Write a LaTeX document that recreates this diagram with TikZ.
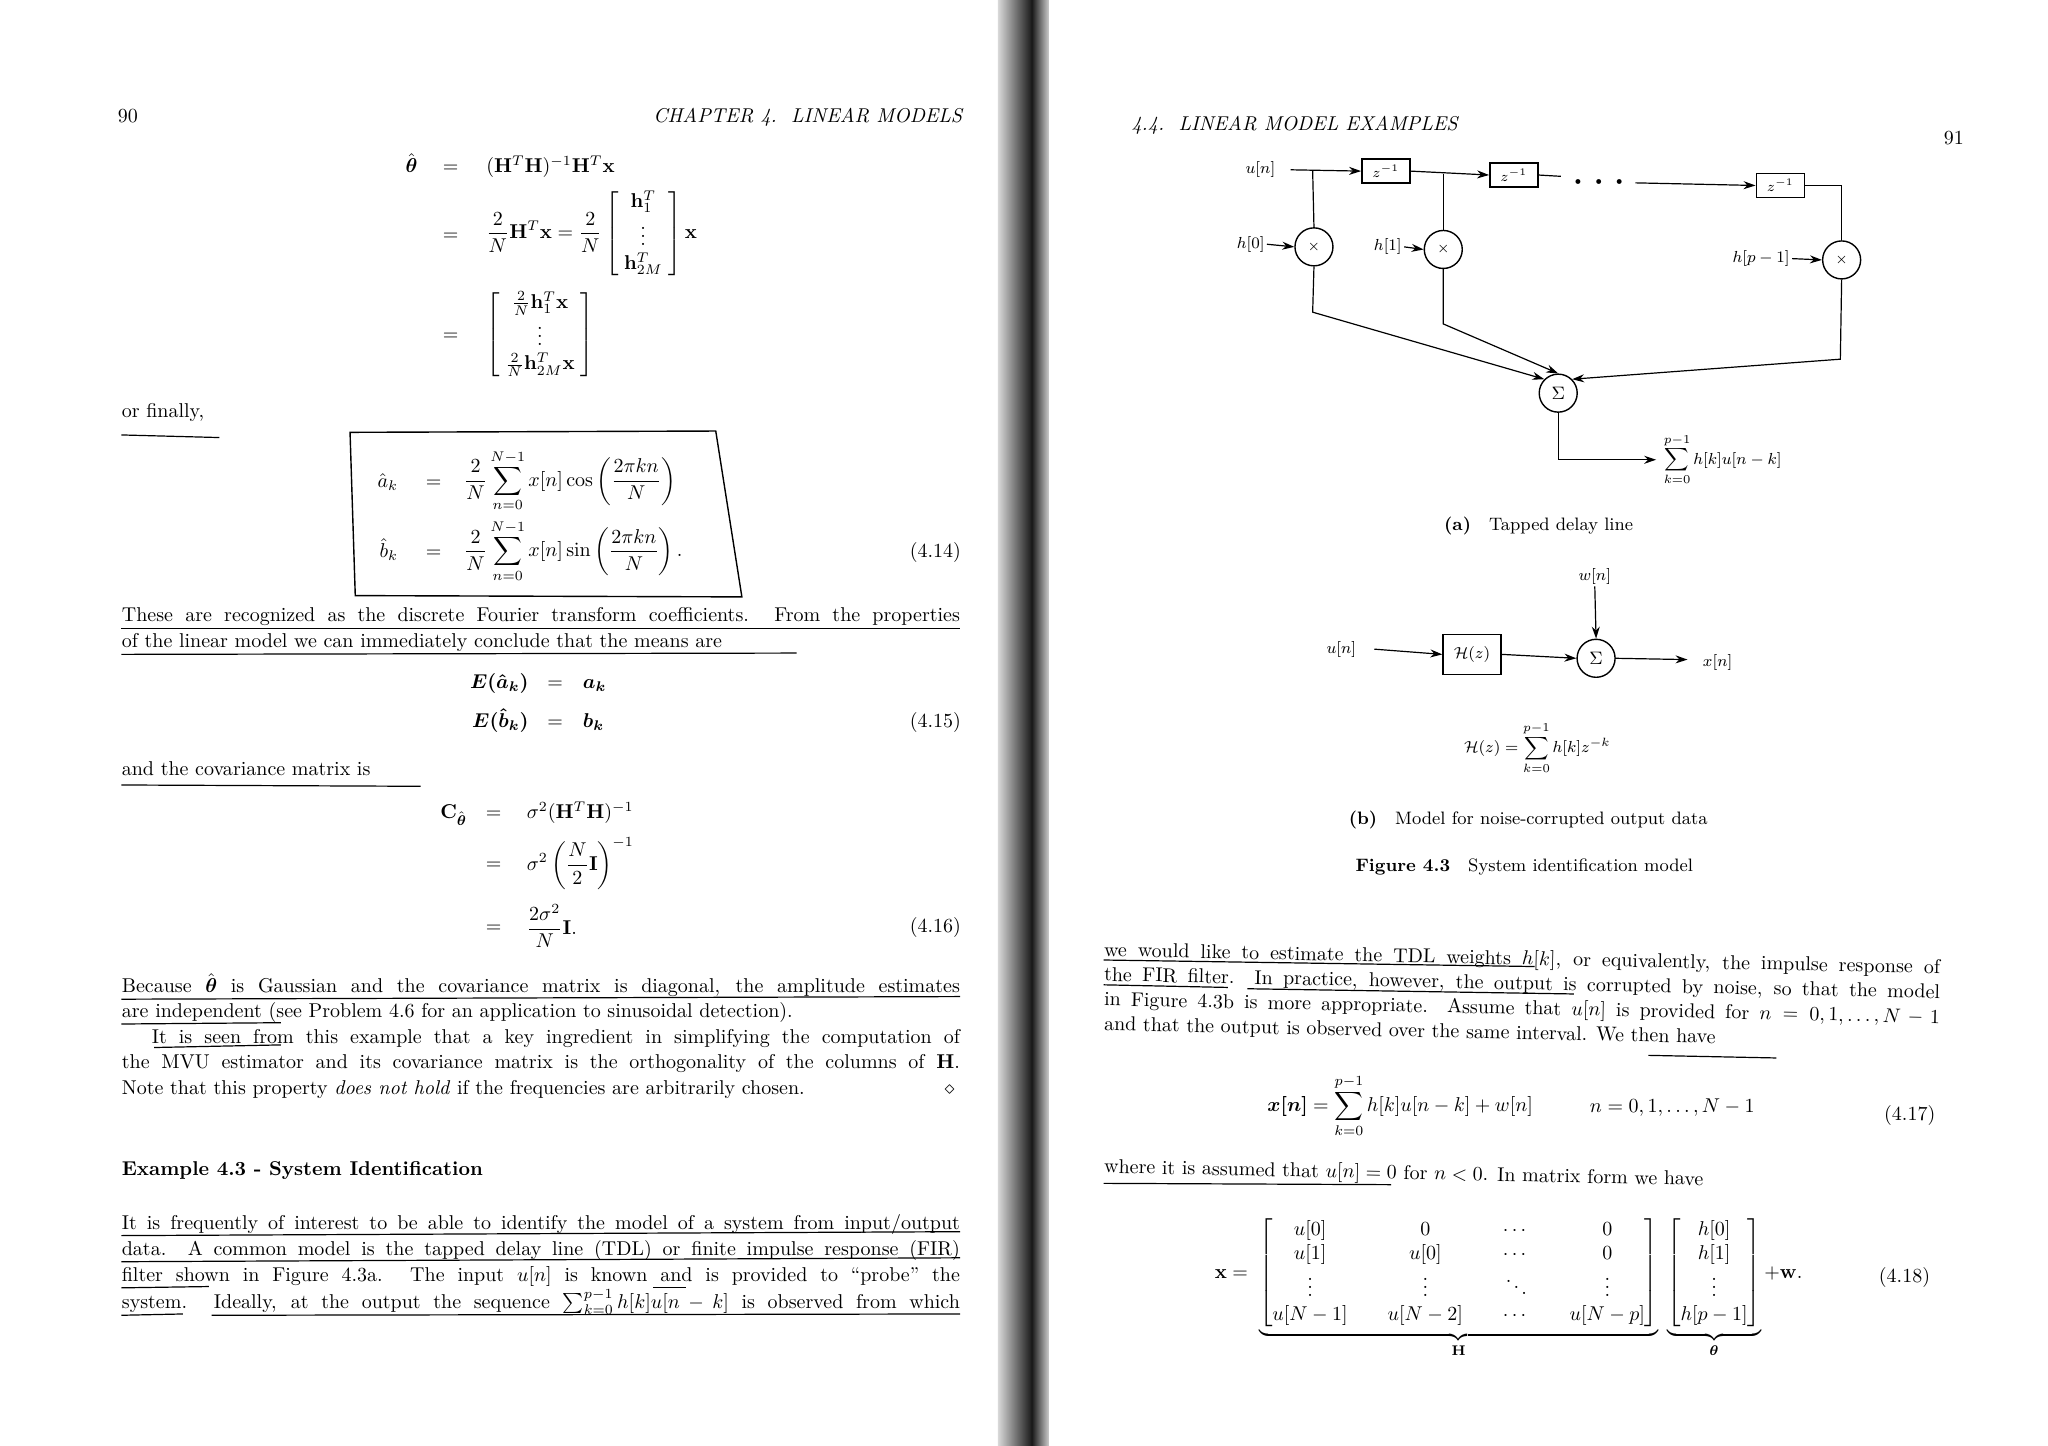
\documentclass[tikz,border=0pt]{standalone}
\usepackage{amsmath,amssymb}
\usetikzlibrary{arrows.meta,shapes.geometric}
\newcommand{\jl}[1]{\makebox[419pt][s]{#1}}
\tikzset{
  txt/.style={anchor=base west,inner sep=0pt,font=\normalsize},
  rtxt/.style={txt,rotate=-1.2},
  ul/.style={line width=0.6pt},
  blk/.style={draw,line width=0.7pt,minimum width=24pt,minimum height=12pt,inner sep=1pt,font=\scriptsize},
  crc/.style={draw,circle,line width=0.7pt,minimum size=19pt,inner sep=0pt,font=\scriptsize},
  ln/.style={line width=0.6pt},
  ar/.style={line width=0.6pt,-{Stealth[length=6pt,width=4pt]}},
  lab/.style={inner sep=1pt,font=\footnotesize}
}
\begin{document}
\begin{tikzpicture}[x=0.653pt,y=-0.653pt]
\useasboundingbox (0,0) rectangle (1568,1107);
\fill[white] (0,0) rectangle (1568,1107);
% spine
\shade[left color=gray!30,right color=black!90] (764,0) rectangle (790,1107);
\shade[left color=black!90,right color=gray!40] (790,0) rectangle (803,1107);
% ===== left page =====
\node[txt] (pg90) at (90,94) {90};
\node[anchor=base east,inner sep=0pt] (chap) at (737,94) {\itshape CHAPTER 4.\ \ LINEAR MODELS};
\node[anchor=base east,inner sep=0pt] (e1l) at (320,132) {$\hat{\boldsymbol\theta}$};
\node[anchor=base,inner sep=0pt] (e1m) at (345,132) {$=$};
\node[anchor=base west,inner sep=0pt] (e1r) at (372,132) {$(\mathbf{H}^T\mathbf{H})^{-1}\mathbf{H}^T\mathbf{x}$};
\node[anchor=base,inner sep=0pt] (e2m) at (345,184) {$=$};
\node[anchor=west,inner sep=0pt] (e2r) at (372,179) {$\displaystyle \frac{2}{N}\mathbf{H}^T\mathbf{x}=\frac{2}{N}\begin{bmatrix}\;\mathbf{h}_1^T\;\\ \vdots\\ \;\mathbf{h}_{2M}^T\;\end{bmatrix}\mathbf{x}$};
\node[anchor=base,inner sep=0pt] (e3m) at (345,261) {$=$};
\node[anchor=west,inner sep=0pt] (e3r) at (372,256) {$\begin{bmatrix}\;\frac{2}{N}\mathbf{h}_1^T\mathbf{x}\;\\ \vdots\\ \;\frac{2}{N}\mathbf{h}_{2M}^T\mathbf{x}\;\end{bmatrix}$};
\node[txt] (fin) at (93,320) {or finally,};
\draw[ul] (93,333) -- (168,335);
\draw[line width=0.7pt] (268,331) -- (548,330) -- (568,457) -- (272,456) -- cycle;
\node[anchor=base east,inner sep=0pt] (ak) at (305,373) {$\hat a_k$};
\node[anchor=base,inner sep=0pt] (akm) at (332,373) {$=$};
\node[anchor=west,inner sep=0pt] (akr) at (355,368) {$\displaystyle \frac{2}{N}\sum_{n=0}^{N-1}x[n]\cos\left(\frac{2\pi kn}{N}\right)$};
\node[anchor=base east,inner sep=0pt] (bk) at (305,427) {$\hat b_k$};
\node[anchor=base,inner sep=0pt] (bkm) at (332,427) {$=$};
\node[anchor=west,inner sep=0pt] (bkr) at (355,422) {$\displaystyle \frac{2}{N}\sum_{n=0}^{N-1}x[n]\sin\left(\frac{2\pi kn}{N}\right).$};
\node[anchor=base east,inner sep=0pt] (n414) at (736,427) {(4.14)};
\node[txt] (p1) at (93,476) {\jl{These are recognized as the discrete Fourier transform coefficients. From the properties}};
\node[txt] (p2) at (93,496) {of the linear model we can immediately conclude that the means are};
\draw[ul] (93,481) -- (735,481); \draw[ul] (93,501) -- (610,500);
\node[anchor=base east,inner sep=0pt] (ea) at (405,527) {$\boldsymbol{E(\hat{a}_k)}$};
\node[anchor=base,inner sep=0pt] (eam) at (425,527) {$=$};
\node[anchor=base west,inner sep=0pt] (ear) at (446,527) {$\boldsymbol{a_k}$};
\node[anchor=base east,inner sep=0pt] (eb) at (405,557) {$\boldsymbol{E(\hat{b}_k)}$};
\node[anchor=base,inner sep=0pt] (ebm) at (425,557) {$=$};
\node[anchor=base west,inner sep=0pt] (ebr) at (446,557) {$\boldsymbol{b_k}$};
\node[anchor=base east,inner sep=0pt] (n415) at (736,557) {(4.15)};
\node[txt] (p3) at (93,594) {and the covariance matrix is};
\draw[ul] (93,601) -- (322,602);
\node[anchor=base east,inner sep=0pt] (cl) at (358,627) {$\mathbf{C}_{\hat{\boldsymbol\theta}}$};
\node[anchor=base,inner sep=0pt] (c1m) at (378,627) {$=$};
\node[anchor=base west,inner sep=0pt] (c1r) at (403,627) {$\sigma^2(\mathbf{H}^T\mathbf{H})^{-1}$};
\node[anchor=base,inner sep=0pt] (c2m) at (378,666) {$=$};
\node[anchor=west,inner sep=0pt] (c2r) at (403,661) {$\displaystyle\sigma^2\left(\frac{N}{2}\mathbf{I}\right)^{-1}$};
\node[anchor=base,inner sep=0pt] (c3m) at (378,714) {$=$};
\node[anchor=west,inner sep=0pt] (c3r) at (403,709) {$\displaystyle\frac{2\sigma^2}{N}\mathbf{I}.$};
\node[anchor=base east,inner sep=0pt] (n416) at (736,714) {(4.16)};
\node[txt] (p4) at (93,760) {\jl{Because $\hat{\boldsymbol\theta}$ is Gaussian and the covariance matrix is diagonal, the amplitude estimates}};
\node[txt] (p5) at (93,779) {are independent (see Problem 4.6 for an application to sinusoidal detection).};
\node[txt] (p6) at (93,799) {\jl{\hspace{1.5em}It is seen from this example that a key ingredient in simplifying the computation of}};
\node[txt] (p7) at (93,818) {\jl{the MVU estimator and its covariance matrix is the orthogonality of the columns of $\mathbf{H}$.}};
\node[txt] (p8) at (93,838) {Note that this property \emph{does not hold} if the frequencies are arbitrarily chosen.};
\node[anchor=base,inner sep=0pt] (dia) at (727,838) {$\diamond$};
\draw[ul] (93,765) -- (735,763); \draw[ul] (93,784) -- (215,783); \draw[ul] (118,802) -- (215,800);
\node[txt] (ex) at (93,900) {\bfseries Example 4.3 - System Identification};
\node[txt] (p9) at (93,941) {\jl{It is frequently of interest to be able to identify the model of a system from input/output}};
\node[txt] (p10) at (93,961) {\jl{data. A common model is the tapped delay line (TDL) or finite impulse response (FIR)}};
\node[txt] (p11) at (93,981) {\jl{filter shown in Figure 4.3a. The input $u[n]$ is known and is provided to ``probe'' the}};
\node[txt] (p12) at (93,1002) {\jl{system. Ideally, at the output the sequence $\sum_{k=0}^{p-1}h[k]u[n-k]$ is observed from which}};
\draw[ul] (93,946) -- (735,943); \draw[ul] (93,966) -- (735,963); \draw[ul] (93,986) -- (160,985);
\draw[ul] (500,986) -- (525,986); \draw[ul] (93,1007) -- (140,1006); \draw[ul] (162,1007) -- (735,1006);
% ===== right page =====
\node[txt] (hd) at (866,100) {\itshape 4.4.\ \ LINEAR MODEL EXAMPLES};
\node[txt] (pg91) at (1488,111) {91};
% diagram (a)
\node[lab] (un) at (965,130) {$u[n]$};
\node[blk] (z1) at (1061,131) {$z^{-1}$};
\node[blk] (z2) at (1159,134) {$z^{-1}$};
\node[blk] (z3) at (1363,142) {$z^{-1}$};
\node[lab,font=\tiny] (dots) at (1224,139) {$\bullet\quad\bullet\quad\bullet$};
\coordinate (t1) at (1005,131);
\coordinate (t2) at (1105,133);
\coordinate (t3) at (1410,142);
\coordinate (d1) at (1195,135);
\coordinate (d2) at (1252,140);
\node[crc] (m1) at (1006,189) {$\times$};
\node[crc] (m2) at (1105,191) {$\times$};
\node[crc] (m3) at (1410,199) {$\times$};
\node[crc,font=\small] (s1) at (1193,301) {$\Sigma$};
\node[lab,anchor=east] (h0) at (970,187) {$h[0]$};
\node[lab,anchor=east] (h1) at (1075,189) {$h[1]$};
\node[lab,anchor=east] (hp) at (1372,198) {$h[p-1]$};
\coordinate (b1) at (1005,239);
\coordinate (b2) at (1105,248);
\coordinate (b3) at (1409,275);
\coordinate (o1) at (1193,352);
\coordinate (o2) at (1268,352);
\node[lab,anchor=west] (sum) at (1272,352) {$\displaystyle\sum_{k=0}^{p-1}h[k]u[n-k]$};
\draw[ar] (un.east) ++(10,0) -- (z1.west);
\draw[ar] (z1.east) -- (z2.west);
\draw[ln] (z2.east) -- (d1);
\draw[ar] (d2) -- (z3.west);
\draw[ln] (t1) -- (m1.north);
\draw[ln] (t2) -- (m2.north);
\draw[ln] (z3.east) -- (t3) -- (m3.north);
\draw[ar] (h0.east) -- (m1.west);
\draw[ar] (h1.east) -- (m2.west);
\draw[ar] (hp.east) -- (m3.west);
\draw[ar] (m1.south) -- (b1) -- (s1.north west);
\draw[ar] (m2.south) -- (b2) -- (s1.north);
\draw[ar] (m3.south) -- (b3) -- (s1.north east);
\draw[ar] (s1.south) -- (o1) -- (o2);
\node[inner sep=0pt] (capa) at (1178,403) {\small\textbf{(a)}\quad Tapped delay line};
% diagram (b)
\node[lab] (wn) at (1221,441) {$w[n]$};
\node[lab] (ub) at (1027,497) {$u[n]$};
\node[blk,minimum width=29pt,minimum height=20pt,font=\footnotesize] (hz) at (1127,501) {$\mathcal{H}(z)$};
\node[crc,font=\small] (s2) at (1222,504) {$\Sigma$};
\coordinate (xo) at (1292,505);
\node[lab,anchor=west] (xn) at (1302,507) {$x[n]$};
\draw[ar] (ub.east) ++(12,0) -- (hz.west);
\draw[ar] (hz.east) -- (s2.west);
\draw[ar] (wn.south) -- (s2.north);
\draw[ar] (s2.east) -- (xo);
\node[lab] (hzd) at (1177,573) {$\displaystyle\mathcal{H}(z)=\sum_{k=0}^{p-1}h[k]z^{-k}$};
\node[inner sep=0pt] (capb) at (1170,628) {\small\textbf{(b)}\quad Model for noise-corrupted output data};
\node[inner sep=0pt] (fig) at (1167,664) {\small\textbf{Figure 4.3}\quad System identification model};
% right text
\node[rtxt] (r1) at (845,732) {\makebox[418pt][s]{we would like to estimate the TDL weights $h[k]$, or equivalently, the impulse response of}};
\node[rtxt] (r2) at (845,751) {\makebox[418pt][s]{the FIR filter. In practice, however, the output is corrupted by noise, so that the model}};
\node[rtxt] (r3) at (845,770) {\makebox[418pt][s]{in Figure 4.3b is more appropriate. Assume that $u[n]$ is provided for $n=0,1,\ldots,N-1$}};
\node[rtxt] (r4) at (845,789) {and that the output is observed over the same interval. We then have};
\draw[ul] (845,735) -- (1175,740); \draw[ul] (845,754) -- (940,756); \draw[ul] (955,757) -- (1205,761);
\draw[ul] (1262,808) -- (1360,810);
\node[inner sep=0pt] (e417) at (1072,847) {$\displaystyle \boldsymbol{x[n]}=\sum_{k=0}^{p-1}h[k]u[n-k]+w[n]$};
\node[anchor=base west,inner sep=0pt] (nr) at (1217,852) {$n=0,1,\ldots,N-1$};
\node[anchor=base east,inner sep=0pt] (n417) at (1482,858) {(4.17)};
\node[rtxt] (r5) at (845,898) {where it is assumed that $u[n]=0$ for $n<0$. In matrix form we have};
\draw[ul] (845,906) -- (1065,907);
\node[inner sep=0pt] (e418) at (1155,986) {{\arraycolsep=10pt$\displaystyle \mathbf{x}=\;\underbrace{\begin{bmatrix}u[0]&0&\cdots&0\\ u[1]&u[0]&\cdots&0\\ \vdots&\vdots&\ddots&\vdots\\ u[N-1]&u[N-2]&\cdots&u[N-p]\end{bmatrix}}_{\mathbf{H}}\;\underbrace{\begin{bmatrix}h[0]\\ h[1]\\ \vdots\\ h[p-1]\end{bmatrix}}_{\boldsymbol{\theta}}+\mathbf{w}.$}};
\node[anchor=base east,inner sep=0pt] (n418) at (1478,982) {(4.18)};
\end{tikzpicture}
\end{document}
